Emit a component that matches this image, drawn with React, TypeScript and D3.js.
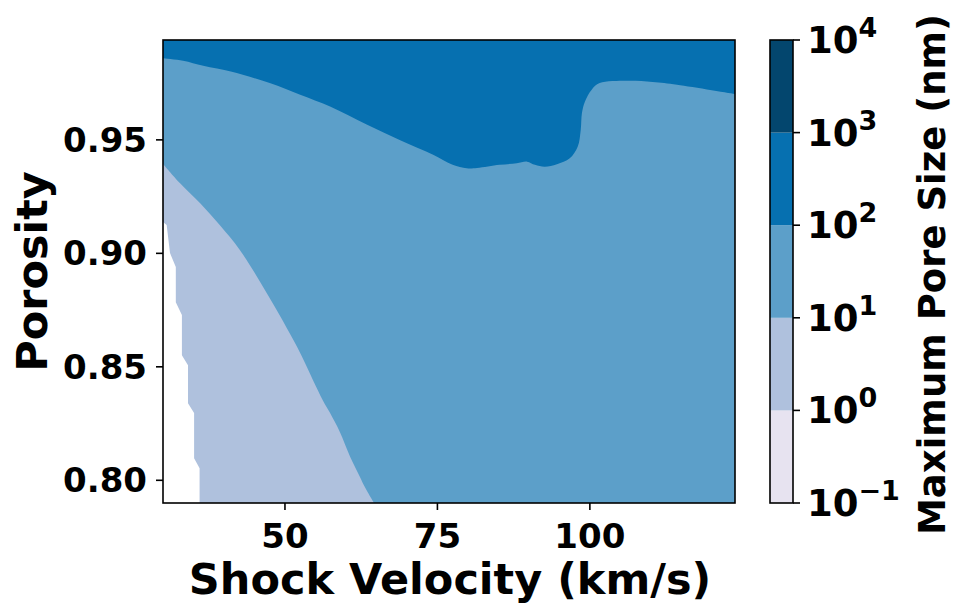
import React from "react";
import * as d3 from "d3";

// Axis extents (km/s, porosity fraction)
const velocityDomain: [number, number] = [30, 123.8];
const porosityDomain: [number, number] = [0.79, 0.994];

// Filled contour levels: log10 of maximum pore size (nm)
const levelExponents = [-1, 0, 1, 2, 3, 4];
const levelColors = ["#e7e3f0", "#afc1dd", "#5c9fc9", "#0670b0", "#03466e"];

const xTicks = [50, 75, 100];
const yTicks = [0.8, 0.85, 0.9, 0.95];

// Isoline at 10^2 nm: [shock velocity, porosity]
const contour100: [number, number][] = [
  [30.0, 0.986], [33.3, 0.9849], [36.6, 0.9826], [41.3, 0.98], [47.5, 0.975],
  [52.5, 0.9699], [57.4, 0.9647], [63.4, 0.9568], [68.9, 0.9498], [74.3, 0.9434],
  [77.5, 0.939], [79.8, 0.9375], [81.5, 0.9376], [85.2, 0.939], [88.0, 0.9397],
  [89.7, 0.9404], [91.0, 0.939], [92.6, 0.9382], [94.6, 0.9393], [96.7, 0.9419],
  [98.0, 0.947], [98.5, 0.9544], [98.7, 0.9618], [99.2, 0.9669], [100.3, 0.9721],
  [101.6, 0.975], [106.1, 0.976], [110.3, 0.9755], [114.3, 0.9743], [123.8, 0.9702],
];

// Isoline at 10^1 nm
const contour10: [number, number][] = [
  [30.0, 0.9394], [32.8, 0.9309], [36.1, 0.9221], [39.3, 0.9125], [42.6, 0.9015],
  [47.0, 0.8825], [52.0, 0.8587], [54.6, 0.8441], [56.2, 0.8353], [57.4, 0.8296],
  [59.0, 0.8213], [60.7, 0.8103], [62.3, 0.8015], [63.1, 0.797], [64.6, 0.79],
];

// Edge of the region without data (stepped by the 1 km/s grid)
const noDataEdge: [number, number][] = [
  [30.0, 0.9138], [30.6, 0.9125], [31.15, 0.9001], [32.1, 0.894], [32.1, 0.8785],
  [33.1, 0.8728], [33.1, 0.8551], [34.1, 0.8507], [34.1, 0.834], [35.1, 0.8296],
  [35.1, 0.8097], [36.0, 0.8053], [36.0, 0.79],
];

const W = 953;
const H = 603;
const plot = { left: 163, right: 735, top: 40, bottom: 503 };
const cbar = { left: 770, right: 793, top: 40, bottom: 503 };
const FONT = "DejaVu Sans";

export default function App() {
  const x = d3.scaleLinear().domain(velocityDomain).range([plot.left, plot.right]);
  const y = d3.scaleLinear().domain(porosityDomain).range([plot.bottom, plot.top]);
  const [v0, v1] = velocityDomain;
  const [p0, p1] = porosityDomain;

  const smooth = d3.line<[number, number]>().x((d) => x(d[0])).y((d) => y(d[1])).curve(d3.curveCatmullRom.alpha(0.5));
  const straight = d3.line<[number, number]>().x((d) => x(d[0])).y((d) => y(d[1]));

  // Band above 10^2: isoline then up to the top edge
  const darkBand = smooth(contour100)! + `L${x(v1)},${y(p1)}L${x(v0)},${y(p1)}Z`;
  // Band below 10^1: isoline then the lower-left corner
  const lightBand = smooth(contour10)! + `L${x(v0)},${y(p0)}Z`;
  const blank = straight(noDataEdge)! + `L${x(v0)},${y(p0)}Z`;

  const c = d3
    .scaleLinear()
    .domain([levelExponents[0], levelExponents[levelExponents.length - 1]])
    .range([cbar.bottom, cbar.top]);

  return (
    <svg width={W} height={H} style={{ display: "block", position: "absolute", left: 0, top: 0 }} fontFamily={FONT} fontWeight="bold">
      <defs>
        <clipPath id="plotClip">
          <rect x={plot.left} y={plot.top} width={plot.right - plot.left} height={plot.bottom - plot.top} />
        </clipPath>
      </defs>
      <g clipPath="url(#plotClip)">
        <rect x={plot.left} y={plot.top} width={plot.right - plot.left} height={plot.bottom - plot.top} fill={levelColors[2]} />
        <path d={darkBand} fill={levelColors[3]} />
        <path d={lightBand} fill={levelColors[1]} />
        <path d={blank} fill="#ffffff" />
      </g>
      <rect x={plot.left} y={plot.top} width={plot.right - plot.left} height={plot.bottom - plot.top} fill="none" stroke="#000" strokeWidth={1.6} />

      {xTicks.map((t) => (
        <g key={t}>
          <line x1={x(t)} x2={x(t)} y1={plot.bottom} y2={plot.bottom + 7} stroke="#000" strokeWidth={1.6} />
          <text x={x(t)} y={548} textAnchor="middle" fontSize={34}>{t}</text>
        </g>
      ))}
      {yTicks.map((t) => (
        <g key={t}>
          <line x1={plot.left - 7} x2={plot.left} y1={y(t)} y2={y(t)} stroke="#000" strokeWidth={1.6} />
          <text x={plot.left - 16} y={y(t) + 12} textAnchor="end" fontSize={34}>{t.toFixed(2)}</text>
        </g>
      ))}
      <text x={(plot.left + plot.right) / 2 + 1} y={594} textAnchor="middle" fontSize={43}>Shock Velocity (km/s)</text>
      <text transform={`translate(47,${(plot.top + plot.bottom) / 2}) rotate(-90)`} textAnchor="middle" fontSize={43}>Porosity</text>

      {levelColors.map((col, i) => (
        <rect
          key={col}
          x={cbar.left}
          y={c(levelExponents[i + 1])}
          width={cbar.right - cbar.left}
          height={c(levelExponents[i]) - c(levelExponents[i + 1])}
          fill={col}
        />
      ))}
      <rect x={cbar.left} y={cbar.top} width={cbar.right - cbar.left} height={cbar.bottom - cbar.top} fill="none" stroke="#000" strokeWidth={1.6} />
      {levelExponents.map((e) => (
        <g key={e}>
          <line x1={cbar.right} x2={cbar.right + 7} y1={c(e)} y2={c(e)} stroke="#000" strokeWidth={1.6} />
          <text x={cbar.right + 14} y={c(e) + 13} fontSize={37}>
            10
            <tspan dy={-16} fontSize={27}>{e < 0 ? `\u2212${-e}` : `${e}`}</tspan>
          </text>
        </g>
      ))}
      <text transform={`translate(945,${(cbar.top + cbar.bottom) / 2 + 3}) rotate(-90)`} textAnchor="middle" fontSize={37}>
        Maximum Pore Size (nm)
      </text>
    </svg>
  );
}
